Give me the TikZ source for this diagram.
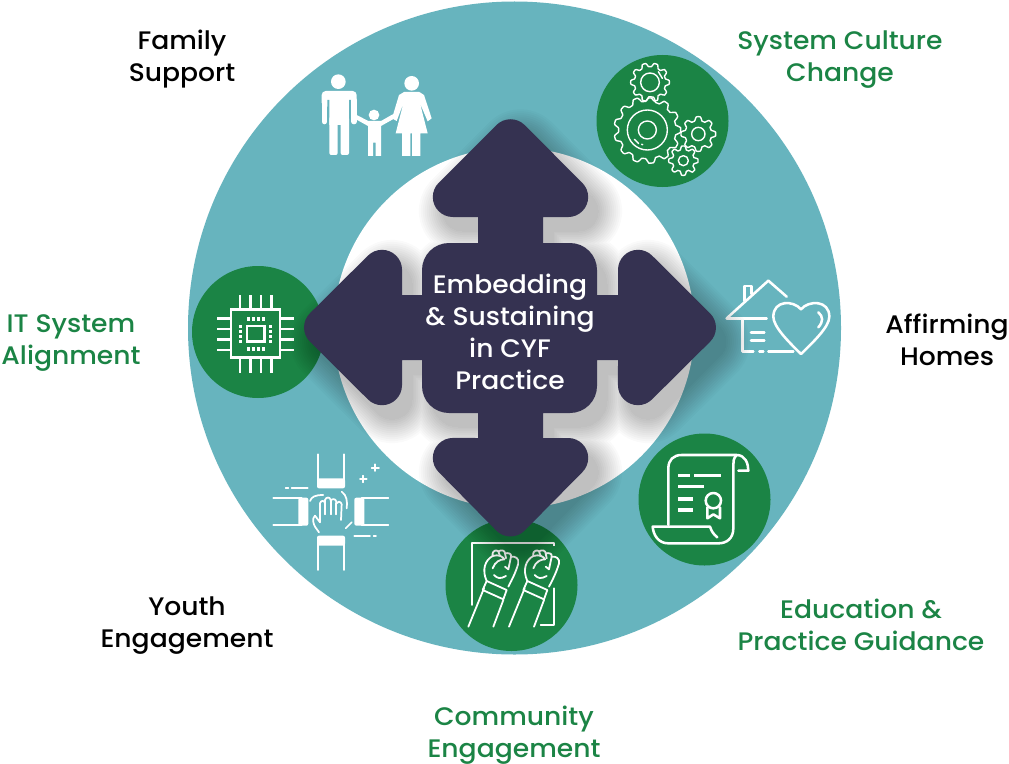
\documentclass[tikz,border=0pt]{standalone}
\usepackage{fontspec}
\setmainfont{Poppins}[UprightFont=* Medium,FakeStretch=1.05]
\definecolor{tealc}{HTML}{67B4BE}
\definecolor{greenc}{HTML}{1B8445}
\definecolor{navyc}{HTML}{353251}
\tikzset{
  px/.style 2 args={shift={(#1,-#2)},x=.25pt,y=-.25pt},
  crosspath/.style={insert path={
    (496.4,-125.1) arc[start angle=135,end angle=45,radius=20]
    -- (582.3,-182.9) arc[start angle=45,end angle=-90,radius=20]
    -- (543,-217) -- (543,-243) -- (570,-243) arc[start angle=90,end angle=0,radius=27]
    -- (597,-295) -- (618,-295) -- (618,-269.8) arc[start angle=180,end angle=45,radius=20]
    -- (710.1,-313.4) arc[start angle=45,end angle=-45,radius=20]
    -- (652.1,-399.3) arc[start angle=-45,end angle=-180,radius=20]
    -- (618,-360) -- (597,-360) -- (597,-386) arc[start angle=0,end angle=-90,radius=27]
    -- (543,-413) -- (543,-438) -- (568.2,-438) arc[start angle=90,end angle=-45,radius=20]
    -- (524.6,-530.6) arc[start angle=-45,end angle=-135,radius=20]
    -- (438.7,-472.1) arc[start angle=-135,end angle=-270,radius=20]
    -- (478,-438) -- (478,-413) -- (449,-413) arc[start angle=-90,end angle=-180,radius=27]
    -- (422,-360) -- (402,-360) -- (402,-385.2) arc[start angle=0,end angle=-135,radius=20]
    -- (309.9,-341.6) arc[start angle=-135,end angle=-225,radius=20]
    -- (367.9,-255.7) arc[start angle=135,end angle=0,radius=20]
    -- (402,-295) -- (422,-295) -- (422,-270) arc[start angle=180,end angle=90,radius=27]
    -- (478,-243) -- (478,-217) -- (452.8,-217) arc[start angle=-90,end angle=-225,radius=20]
    -- cycle}},
  lab/.style={inner sep=0pt,align=center,font=\fontsize{19}{24}\selectfont},
  grlab/.style={lab,text=greenc},
  blab/.style={lab,text=black},
  gcirc/.style={fill=greenc,draw=none,circle,minimum size=99pt,inner sep=0pt},
  thin icon/.style={draw=white,line width=1.05pt,line join=round,line cap=round},
  mid icon/.style={draw=white,line width=1.9pt,line join=round,line cap=round},
  fist icon/.style={draw=white,line width=1.35pt,line join=round,line cap=round},
  hand icon/.style={draw=white,line width=1.3pt,line join=round,line cap=round},
}
\newcommand{\gearat}[5]{% x y innerR outerR teeth
  \draw[thin icon] plot[domain=0:360,samples=#5*14,variable=\t]
   ({#1+(#3+(#4-#3)*(0.5+0.5*max(-1,min(1,1.7*cos(#5*\t)))))*cos(\t)},
    {#2+(#3+(#4-#3)*(0.5+0.5*max(-1,min(1,1.7*cos(#5*\t)))))*sin(\t)}) -- cycle;}
\begin{document}
\begin{tikzpicture}[x=.75pt,y=.75pt]
\useasboundingbox (0,0) rectangle (1009,-763);
\fill[white] (0,0) rectangle (1009,-763);
% discs
\fill[tealc] (514.5,-328) circle[radius=326.5];
\fill[white] (514,-328) circle[radius=180.5];
% green discs
\node[gcirc] (gearsdisc) at (662.5,-121) {};
\node[gcirc] (scrolldisc) at (704.5,-499.5) {};
\node[gcirc] (fistdisc) at (511.5,-585) {};
\node[gcirc] (chipdisc) at (258,-332) {};

% family
\begin{scope}[px={300}{50}]
 \fill[white] (115,95) circle[radius=22];
 \fill[white] (335,100) circle[radius=22];
 \fill[white] (222,195) circle[radius=16];
 % man
 \fill[white,rounded corners=3pt] (65,170) -- (65,123) -- (170,123) -- (170,170) -- cycle;
 \fill[white] (88,145) rectangle (147,225);
 \fill[tealc] (82,150) rectangle (88,225) (147,150) rectangle (153,225);
 \draw[white,line width=4pt,line cap=round] (73,150) -- (73,215) (162,150) -- (162,215);
 \fill[white,rounded corners=1.5pt] (88,200) rectangle (113,315);
 \fill[white,rounded corners=1.5pt] (122,200) rectangle (147,315);
 % child
 \fill[white] (170,195) -- (205,213) -- (243,213) -- (278,193) -- (282,206) -- (243,228) -- (243,318) -- (227,318) -- (227,278) -- (219,278) -- (219,318) -- (204,318) -- (204,228) -- (168,208) -- cycle;
 % woman
 \fill[white,line join=round] (312,126) -- (358,126) -- (372,135) -- (395,205) -- (383,214) -- (360,160) -- (383,250) -- (361,250) -- (361,318) -- (336,318) -- (336,250) -- (331,250) -- (331,318) -- (306,318) -- (306,250) -- (287,250) -- (310,160) -- (290,213) -- (276,205) -- (297,135) -- cycle;
\end{scope}

% gears
\begin{scope}[px={590}{50}]
 \gearat{180}{97}{47}{58}{10}
 \gearat{172}{240}{86}{100}{13}
 \gearat{325}{252}{40}{52}{8}
 \gearat{280}{332}{33}{44}{8}
 \draw[thin icon] (180,97) circle[radius=28];
 \draw[thin icon] (172,240) circle[radius=60];
 \draw[thin icon] (172,240) circle[radius=27];
 \draw[thin icon] (325,252) circle[radius=20];
 \draw[thin icon] (280,332) circle[radius=15];
 \draw[thin icon] (205,65) -- (217,85);
 \draw[thin icon] (133,268) -- (146,281);
 \draw[thin icon] (155,283) -- (158,284);
\end{scope}

% home
\begin{scope}[px={715}{270}]
 \draw[mid icon] (35,145) -- (160,32) -- (215,80);
 \draw[mid icon] (88,93) -- (88,48) -- (110,48) -- (110,72);
 \draw[mid icon] (35,145) -- (155,145);
 \draw[mid icon] (82,145) -- (82,245) -- (115,245);
 \draw[mid icon] (133,245) -- (145,245);
 \draw[mid icon] (160,245) -- (235,245);
 \draw[mid icon] (108,188) -- (148,188);
 \draw[mid icon] (108,212) -- (148,212);
 \draw[mid icon] (258,118) .. controls (235,90) and (175,90) .. (175,140)
   .. controls (175,170) and (220,215) .. (258,252)
   .. controls (296,215) and (343,170) .. (343,140)
   .. controls (343,90) and (281,90) .. (258,118) -- cycle;
 \draw[mid icon] (310,127) .. controls (325,140) and (325,155) .. (310,172);
\end{scope}

% scroll
\begin{scope}[px={630}{430}]
 \draw[mid icon] (115,285) -- (115,115) .. controls (115,90) and (130,75) .. (155,75) -- (320,75)
   .. controls (345,75) and (355,100) .. (355,122) -- (325,122);
 \draw[mid icon] (320,75) .. controls (310,85) and (310,95) .. (310,105) -- (310,295)
   .. controls (310,325) and (290,340) .. (265,340) -- (115,340)
   .. controls (85,340) and (70,315) .. (68,290) -- (240,290) .. controls (245,305) and (250,312) .. (262,322);
 \draw[white,line width=2.4pt] (145,137) -- (180,137) (193,137) -- (272,137) (145,170) -- (222,170) (145,207) -- (188,207) (145,240) -- (188,240);
 \draw[mid icon] (250,212) circle[radius=23];
 \draw[mid icon] (232,232) -- (232,265) -- (250,253) -- (270,265) -- (270,232);
\end{scope}

% fists
\begin{scope}[px={440}{510}]
 \draw[fist icon] (97,285) -- (97,100) -- (343,100) -- (343,135);
 \draw[fist icon] (343,235) -- (343,345) -- (302,345);
 \foreach \dx in {0,122}{
 \begin{scope}[xshift=\dx*.25pt]
  \fill[greenc] (115,108) rectangle (237,212);
  \draw[fist icon] (85,350) -- (132,235) (160,350) -- (190,270);
  \draw[fist icon] (140,213) -- (200,240) -- (190,268) -- (128,240) -- (140,213);
  \draw[fist icon] (140,213) .. controls (125,180) and (135,150) .. (158,138)
    .. controls (155,118) and (172,120) .. (175,124) .. controls (185,118) and (195,122) .. (195,130)
    .. controls (205,128) and (215,130) .. (213,140) .. controls (225,138) and (238,145) .. (235,160)
    .. controls (228,185) and (218,205) .. (205,230);
  \draw[fist icon] (158,138) .. controls (175,132) and (190,140) .. (193,148)
    .. controls (180,148) and (165,155) .. (158,175);
  \draw[fist icon] (175,124) -- (180,138) (195,130) -- (198,145) (213,140) -- (205,178) -- (195,170);
  \draw[fist icon] (162,195) .. controls (172,205) and (180,208) .. (198,198);
 \end{scope}}
\end{scope}

% hands
\begin{scope}[px={265}{445}]
 \draw[hand icon] (158,28) -- (158,110) (238,28) -- (238,110);
 \fill[white,rounded corners=1.5pt] (156,100) rectangle (240,130);
 \draw[hand icon] (158,290) -- (158,375) (238,290) -- (238,375);
 \fill[white,rounded corners=1.5pt] (156,272) rectangle (240,302);
 \draw[hand icon] (25,160) -- (110,160) (25,240) -- (110,240);
 \fill[white,rounded corners=1.5pt] (100,158) rectangle (130,242);
 \draw[hand icon] (290,160) -- (370,160) (290,240) -- (370,240);
 \fill[white,rounded corners=1.5pt] (268,158) rectangle (298,242);
 \draw[hand icon] (285,102) -- (305,102) (295,92) -- (295,112) (320,68) -- (342,68) (331,58) -- (331,78);
 \draw[hand icon] (62,130) -- (70,130) (80,130) -- (128,130) (268,272) -- (315,272) (326,272) -- (333,272);
 \draw[hand icon] (135,168) .. controls (140,155) and (150,150) .. (175,150);
 \draw[hand icon] (230,140) .. controls (245,150) and (248,170) .. (245,190);
 \draw[hand icon] (242,250) -- (260,232);
 \draw[hand icon] (162,262) -- (150,245) .. controls (145,235) and (140,222) .. (150,212) -- (165,232)
   -- (165,175) .. controls (168,165) and (178,165) .. (180,175) -- (180,165) .. controls (183,155) and (195,155) .. (197,165)
   -- (197,168) .. controls (200,160) and (212,160) .. (214,170) -- (214,175) .. controls (217,168) and (228,168) .. (230,178)
   -- (228,225);
 \draw[hand icon] (180,175) -- (180,208) (197,168) -- (197,208) (214,175) -- (214,208);
\end{scope}

% chip
\begin{scope}[px={185}{260}]
 \draw[white,line width=2pt] (138,148) rectangle (285,292);
 \draw[white,line width=2pt] (186,198) rectangle (238,245);
 \draw[white,line width=2pt]
   (165,105) -- (165,148) (197,105) -- (197,148) (228,105) -- (228,148) (260,105) -- (260,148)
   (165,292) -- (165,338) (197,292) -- (197,338) (228,292) -- (228,338) (260,292) -- (260,338)
   (97,175) -- (138,175) (97,207) -- (138,207) (97,238) -- (138,238) (97,270) -- (138,270)
   (285,175) -- (328,175) (285,207) -- (328,207) (285,238) -- (328,238) (285,270) -- (328,270);
 \foreach \p in {190,205,220,235}{
   \fill[white] (\p-5,172) rectangle (\p+5,182);
   \fill[white] (\p-5,262) rectangle (\p+5,272);}
 \foreach \p in {200,215,230,245}{
   \fill[white] (162,\p-5) rectangle (172,\p+5);
   \fill[white] (252,\p-5) rectangle (262,\p+5);}
\end{scope}

% shadow
\begin{scope}[shift={(10,-14)}]
 \foreach \w in {48,44,...,0}{
  \begin{scope}[transparency group,opacity=.02]
   \path[fill=black,draw=black,line width=\w*.75pt,line join=round,crosspath];
  \end{scope}
 }
\end{scope}
% cross
\path[fill=navyc,crosspath];

% labels
\node[blab] (family) at (182,-59) {Family\\Support};
\node[grlab] (culture) at (840,-60) {System Culture\\Change};
\node[blab] (homes) at (947,-340) {Affirming\\Homes};
\node[grlab] (educ) at (861,-625) {Education \&\\Practice Guidance};
\node[grlab] (comm) at (514,-735.5) {Community\\Engagement};
\node[blab] (youth) at (187,-626) {Youth\\Engagement};
\node[grlab] (itsys) at (71,-343) {IT System\\Alignment};
\node[lab,text=white] (center) at (510,-332) {Embedding\\\& Sustaining\\in CYF\\Practice};
\end{tikzpicture}
\end{document}
